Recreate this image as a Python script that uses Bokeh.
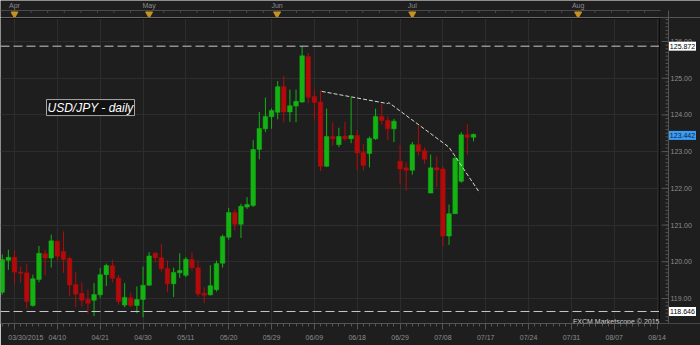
import numpy as np
from bokeh.plotting import figure
from bokeh.models import Range1d, FixedTicker, Span, Label, ColumnDataSource, BoxAnnotation
from bokeh.layouts import column
from bokeh.embed import file_html
from bokeh.resources import INLINE
from bokeh.core.properties import value

# ---- data ----
opens = [119.17, 120.04, 120.12, 119.72, 119.70, 118.81, 119.52, 120.22, 120.10, 120.56,
         120.28, 120.09, 119.38, 119.14, 118.97, 118.95, 119.10, 119.65, 119.89, 119.56,
         118.82, 119.02, 118.81, 118.97, 119.36, 120.23, 120.11, 119.82, 119.40, 119.70,
         119.63, 120.06, 119.84, 119.14, 119.10, 119.24, 119.96, 120.67, 121.34, 121.02,
         121.49, 121.53, 123.06, 123.62, 123.95, 124.07, 124.77, 124.08, 124.24, 124.35,
         125.59, 124.50, 124.35, 122.60, 123.41, 123.19, 123.42, 123.35, 123.44, 122.98,
         122.95, 123.35, 123.96, 123.85, 123.62, 122.74, 122.56, 122.49, 123.19, 123.03,
         121.87, 122.56, 122.53, 120.70, 121.31, 122.19, 123.46, 123.39]
highs = [120.20, 120.33, 120.31, 119.87, 119.95, 119.65, 120.43, 120.33, 120.74, 120.58,
         120.83, 120.14, 119.72, 119.44, 119.24, 119.42, 119.83, 119.95, 120.06, 119.64,
         119.42, 119.16, 119.33, 119.87, 120.26, 120.27, 120.49, 120.04, 119.84, 120.23,
         120.13, 120.26, 120.04, 119.31, 119.91, 120.03, 120.74, 121.47, 121.43, 121.58,
         121.76, 123.32, 124.08, 124.47, 124.18, 124.92, 125.06, 124.69, 124.69, 125.87,
         125.69, 124.70, 124.67, 124.17, 123.80, 123.65, 123.81, 124.48, 123.58, 123.21,
         123.41, 124.17, 124.30, 123.96, 123.89, 123.19, 122.71, 123.26, 123.71, 123.12,
         122.92, 122.87, 122.60, 121.56, 122.87, 123.53, 123.74, 123.49]
lows = [119.10, 119.78, 119.40, 119.44, 118.72, 118.78, 119.44, 119.63, 119.84, 120.04,
        119.70, 119.06, 118.76, 118.78, 118.59, 118.52, 119.02, 119.34, 119.44, 118.83,
        118.76, 118.76, 118.60, 118.49, 119.35, 119.98, 119.73, 119.18, 119.04, 119.56,
        119.58, 119.76, 119.04, 118.88, 119.08, 119.19, 119.84, 120.60, 120.85, 120.65,
        121.44, 121.49, 122.79, 123.53, 123.62, 123.88, 123.79, 123.81, 123.80, 124.33,
        124.32, 123.87, 122.47, 122.58, 123.16, 123.12, 123.30, 123.23, 122.49, 122.49,
        122.57, 123.32, 123.74, 123.32, 123.26, 122.12, 121.94, 122.37, 122.89, 122.67,
        121.87, 122.03, 120.42, 120.46, 121.30, 122.15, 122.92, 123.28]
closes = [120.06, 120.12, 119.72, 119.69, 118.92, 119.54, 120.23, 120.10, 120.57, 120.15,
          120.06, 119.37, 119.12, 118.95, 118.87, 119.11, 119.65, 119.90, 119.55, 118.92,
          119.03, 118.81, 118.97, 119.36, 120.16, 120.11, 119.81, 119.40, 119.71, 119.76,
          120.07, 119.84, 119.12, 119.09, 119.35, 119.95, 120.69, 121.34, 121.02, 121.51,
          121.56, 123.06, 123.63, 123.96, 124.12, 124.77, 124.08, 124.25, 124.37, 125.61,
          124.48, 124.34, 122.60, 123.41, 123.35, 123.41, 123.35, 123.44, 122.96, 122.62,
          123.36, 123.96, 123.85, 123.62, 123.83, 122.53, 122.49, 123.19, 123.01, 122.79,
          122.56, 122.50, 120.70, 121.31, 122.82, 123.46, 123.39, 123.47]

date_labels = ["03/30/2015", "04/10", "04/21", "04/30", "05/11", "05/20", "05/29", "06/09",
               "06/18", "06/29", "07/08", "07/17", "07/24", "07/31", "08/07", "08/14"]
months = ["Apr", "May", "Jun", "Jul", "Aug"]
month_bar = [2.0, 24.0, 44.9, 67.0, 94.1]
price_ticks = [119, 120, 121, 122, 123, 124, 125, 126]
range_high = 125.872
range_low = 118.646
last_price = 123.442
trend_bar = [52.2, 62.9, 63.2, 73.0, 78.0]
trend_val = [124.64, 124.31, 124.33, 123.12, 121.88]
pair_title = "USD/JPY - daily"
credit = "FXCM Marketscope \u00a9 2015"

# ---- styling ----
BG = "#1e1e1e"
GRID = "#2d2d2d"
AXIS = "#555555"
LABEL = "#8c8c8c"
GREEN = "#13b313"
RED = "#b30b0b"
FONT_NAME = "Liberation Sans"
FONT = value(FONT_NAME)

n = len(opens)
idx = list(range(n))
colors = [GREEN if c >= o else RED for o, c in zip(opens, closes)]
src = ColumnDataSource(dict(
    x=idx, o=opens, h=highs, l=lows, c=closes,
    top=[max(a, b) for a, b in zip(opens, closes)],
    bot=[min(a, b) for a, b in zip(opens, closes)],
    color=colors))

px_per_bar = 6.12
x0_px = 1.76


def xi(px):
    """screen x (px) -> bar index coordinate"""
    return (px - x0_px) / px_per_bar


xr = Range1d(xi(0), xi(700))
y_lo, y_hi = 118.319, 126.653
px_per_unit = 36.72

label_pos = [2 + 7 * k for k in range(len(date_labels))]
shown_labels = ["\u00a0" * 4 + date_labels[0]] + date_labels[1:]

p = figure(width=700, height=328, x_range=xr, y_range=Range1d(y_lo, y_hi),
           output_backend="svg", toolbar_location=None, y_axis_location=None,
           min_border_left=0, min_border_right=0, min_border_top=0, min_border_bottom=22,
           background_fill_color=BG, border_fill_color=BG, outline_line_color=None)

# grid
p.xgrid.ticker = FixedTicker(ticks=label_pos)
p.ygrid.ticker = FixedTicker(ticks=price_ticks)
p.grid.grid_line_color = GRID

# x axis
xa = p.xaxis[0]
xa.ticker = FixedTicker(ticks=label_pos, minor_ticks=list(range(-1, 108)))
xa.major_label_overrides = {pos: lab for pos, lab in zip(label_pos, shown_labels)}
xa.bounds = (xi(0), xi(660))
xa.axis_line_color = AXIS
xa.major_tick_line_color = AXIS
xa.minor_tick_line_color = AXIS
xa.major_tick_in = 0
xa.major_tick_out = 6
xa.minor_tick_in = 0
xa.minor_tick_out = 3
xa.major_label_standoff = 4
xa.major_label_text_font_size = "7px"
xa.major_label_text_color = LABEL
xa.major_label_text_font = FONT_NAME

# range lines + frame top line
for lvl in (range_high, range_low):
    p.add_layout(Span(location=lvl, dimension="width", line_color="#c8c8c8",
                      line_width=1, line_dash="9 4"))
p.add_layout(Span(location=y_hi - 0.5 / px_per_unit, dimension="width",
                  line_color="#000000", line_width=1))

# candles
p.segment(x0="x", y0="l", x1="x", y1="h", source=src, line_color="color", line_width=1)
p.vbar(x="x", width=0.75, top="top", bottom="bot", source=src,
       fill_color="color", line_color="color", line_width=0.5)

# trend line
p.line(trend_bar, trend_val, line_color="#cfdccf", line_width=1, line_dash="4 2")

# right price-scale strip (mask grid/lines beyond the chart frame)
p.add_layout(BoxAnnotation(left=xi(659.5), fill_color=BG, fill_alpha=1.0,
                           line_color=None, line_alpha=0))
p.add_layout(Span(location=xi(659), dimension="height", line_color="#0c0c0c", line_width=1))
p.add_layout(Span(location=xi(668), dimension="height", line_color=AXIS, line_width=1))

minor_vals = [round(v, 1) for v in np.arange(118.4, 126.7, 0.1)]
p.segment(x0=[xi(665)] * len(minor_vals), y0=minor_vals, x1=[xi(668)] * len(minor_vals),
          y1=minor_vals, line_color=AXIS, line_width=1, level="overlay")
p.segment(x0=[xi(661)] * len(price_ticks), y0=price_ticks, x1=[xi(668)] * len(price_ticks),
          y1=price_ticks, line_color=AXIS, line_width=1, level="overlay")
p.text(x=[xi(670)] * len(price_ticks), y=price_ticks,
       text=[f"{v:.2f}" for v in price_ticks], text_font=FONT, text_font_size="7px",
       text_color=LABEL, text_align="left", text_baseline="middle", level="overlay")

box_vals = [range_high, range_low, last_price]
box_fill = ["#ffffff", "#ffffff", "#3d9cf5"]
box_text_col = ["#000000", "#000000", "#0a1e3c"]
p.rect(x=[xi(682)] * 3, y=box_vals, width=27, height=9, width_units="screen",
       height_units="screen", fill_color=box_fill, line_color=None, level="overlay")
p.text(x=[xi(682)] * 3, y=box_vals, text=[f"{v:.3f}" for v in box_vals], text_font=FONT,
       text_font_size="7px", text_color=box_text_col, text_align="center",
       text_baseline="middle", level="overlay")

# labels
p.add_layout(Label(x=xi(46), y=124.20, text=pair_title,
                   text_font=FONT_NAME, text_font_size="12px", text_font_style="italic",
                   text_color="#ffffff", text_baseline="middle", text_align="left",
                   background_fill_color="#121212", border_line_color="#a8a8a8",
                   padding=1))

p.add_layout(Label(x=xi(659), y=118.38, text=credit,
                   text_font=FONT_NAME, text_font_size="7px", text_color="#d0d0d0",
                   text_baseline="middle", text_align="right"))

# ---- top month strip ----
top = figure(width=700, height=17, x_range=xr, y_range=Range1d(0, 17),
             output_backend="svg", toolbar_location=None,
             x_axis_location=None, y_axis_location=None,
             min_border_left=0, min_border_right=0, min_border_top=0, min_border_bottom=0,
             background_fill_color=BG, border_fill_color=BG, outline_line_color=None)
top.grid.visible = False
top.segment(x0=[xi(0)], y0=[7], x1=[xi(660)], y1=[7], line_color="#4a4a4a", line_width=1)
top.segment(x0=[xi(668)], y0=[0], x1=[xi(668)], y1=[7], line_color=AXIS, line_width=1)
strip_ticks = [t for t in np.arange(month_bar[0] - 2.71, xi(660), 2.71)]
top.segment(x0=strip_ticks, y0=[7] * len(strip_ticks), x1=strip_ticks,
            y1=[4.5] * len(strip_ticks), line_color="#4a4a4a", line_width=1)
top.text(x=month_bar, y=[12.5] * len(months), text=months, text_font=FONT,
         text_font_size="7px", text_color=LABEL, text_align="center",
         text_baseline="middle")
top.scatter(x=month_bar, y=[3.5] * len(months), marker="inverted_triangle", size=7,
            fill_color="#c8921e", line_color="#c8921e")

layout = column(top, p)
open("out.html", "w").write(file_html(layout, INLINE))
